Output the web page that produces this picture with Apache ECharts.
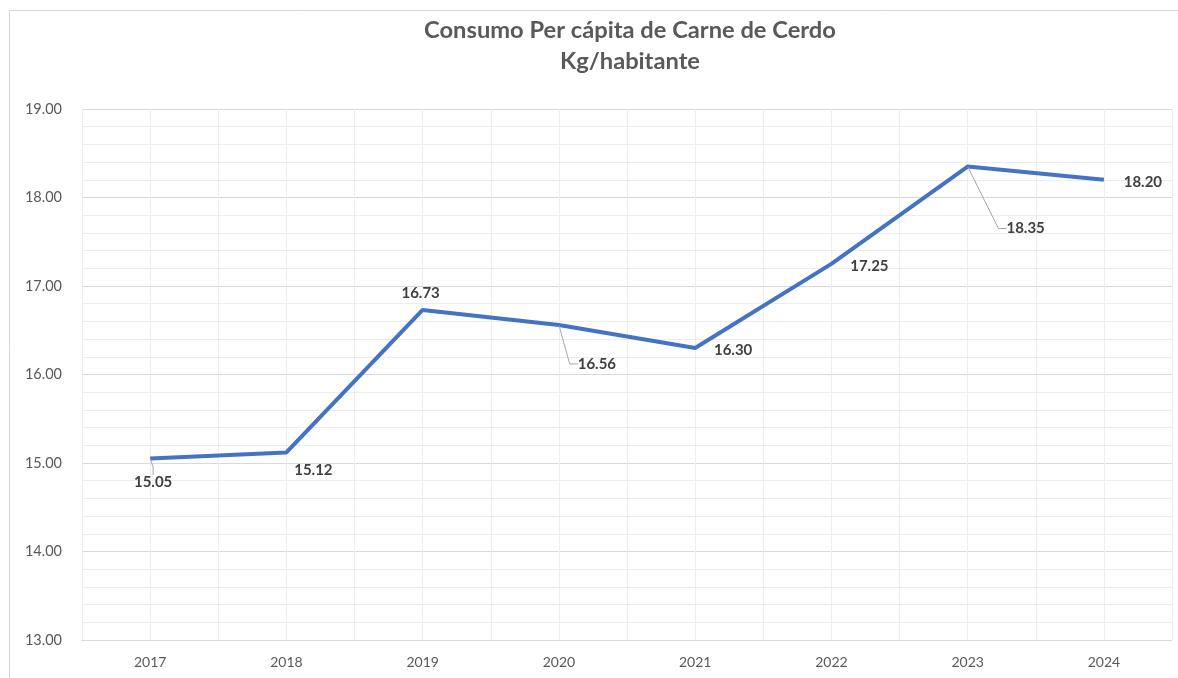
<!DOCTYPE html>
<html>
<head>
<meta charset="utf-8">
<script src="https://cdn.jsdelivr.net/npm/echarts@6/dist/echarts.min.js"></script>
<style>
html,body{margin:0;padding:0;background:#fff;}
#main{width:1178px;height:678px;}
</style>
</head>
<body>
<div id="main"></div>
<script>
var years = ['2017','2018','2019','2020','2021','2022','2023','2024'];
var consumo = [15.05, 15.12, 16.73, 16.56, 16.30, 17.25, 18.35, 18.20];
var yTicks = [13, 14, 15, 16, 17, 18, 19];

// label offsets (px) relative to each point, and whether a leader line is drawn
var labelDx = [3, 27, -2, 38, 38, 38, 58, 39];
var labelDy = [24, 18, -17, 39, 2, 2, 62, 2];
var leader = [true, false, false, true, false, false, true, false];

var chart = echarts.init(document.getElementById('main'), null, {renderer: 'canvas'});
var FONT = 'Lato, "Open Sans", sans-serif';

var dataItems = consumo.map(function (v, i) {
  return {value: v, labelLine: {show: leader[i]}};
});

chart.setOption({
  animation: false,
  backgroundColor: '#ffffff',
  title: {
    text: 'Consumo Per cápita de Carne de Cerdo\nKg/habitante',
    left: 625,
    textAlign: 'center',
    top: 10,
    textStyle: {fontFamily: FONT, fontSize: 23.7, fontWeight: 'bold', color: '#595959', lineHeight: 31}
  },
  graphic: [{
    type: 'rect',
    shape: {x: 9.5, y: 10.5, width: 1300, height: 800},
    style: {fill: 'none', stroke: '#d9d9d9', lineWidth: 1},
    silent: true, z: -1
  }],
  grid: {left: 82, right: 6, top: 109, bottom: 38, containLabel: false},
  xAxis: [{
    type: 'category',
    data: years,
    boundaryGap: true,
    axisLine: {show: true, lineStyle: {color: '#d9d9d9', width: 1}},
    axisTick: {show: false},
    axisLabel: {fontFamily: FONT, fontSize: 14, color: '#595959', margin: 15},
    splitLine: {show: false}
  }, {
    type: 'value',
    min: -0.5, max: 7.5, interval: 0.5,
    show: true,
    position: 'bottom',
    axisLine: {show: false}, axisTick: {show: false}, axisLabel: {show: false},
    splitLine: {show: true, lineStyle: {color: '#ededed', width: 1}}
  }],
  yAxis: {
    type: 'value',
    min: yTicks[0], max: yTicks[yTicks.length - 1], interval: 1,
    axisLine: {show: false},
    axisTick: {show: false},
    axisLabel: {fontFamily: FONT, fontSize: 14.5, color: '#595959', margin: 20,
      formatter: function (v) { return v.toFixed(2); }},
    splitLine: {show: true, lineStyle: {color: '#d9d9d9', width: 1}},
    minorTick: {show: false, splitNumber: 5},
    minorSplitLine: {show: true, lineStyle: {color: '#ededed', width: 1}}
  },
  series: [{
    type: 'line',
    xAxisIndex: 0,
    data: dataItems,
    symbol: 'circle',
    symbolSize: 1,
    showSymbol: true,
    itemStyle: {color: 'rgba(68,114,196,0)'},
    lineStyle: {color: '#4472C4', width: 4},
    z: 5,
    label: {
      show: true,
      position: 'inside',
      fontFamily: FONT, fontSize: 15, fontWeight: 'bold', color: '#404040',
      formatter: function (p) { return p.value.toFixed(2); }
    },
    labelLine: {show: false, lineStyle: {color: '#a6a6a6', width: 1}, length2: 8},
    labelLayout: function (p) {
      return {dx: labelDx[p.dataIndex], dy: labelDy[p.dataIndex]};
    }
  }]
});
</script>
</body>
</html>
